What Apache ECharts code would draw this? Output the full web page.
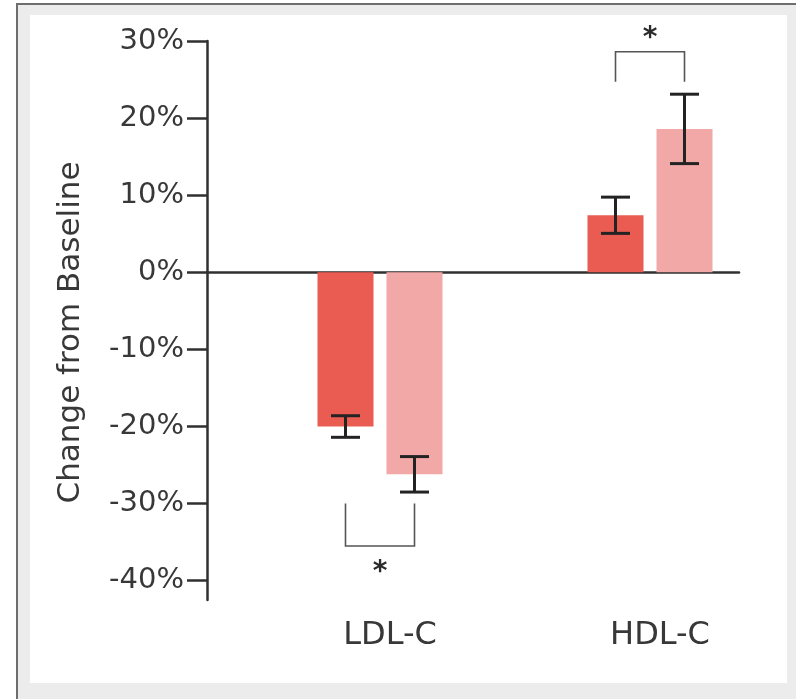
<!DOCTYPE html>
<html>
<head>
<meta charset="utf-8">
<title>Change from Baseline: LDL-C and HDL-C</title>
<script src="https://cdn.jsdelivr.net/npm/echarts@6/dist/echarts.min.js"></script>
<style>
  html, body { margin: 0; padding: 0; background: #ffffff; overflow: hidden; width: 796px; height: 699px; }
  .frame {
    position: absolute; left: 16px; top: 3px; width: 780px; height: 696px;
    box-sizing: border-box; background: #ececec;
    border-left: 2px solid #6e6e6e; border-top: 2px solid #6e6e6e;
  }
  .panel {
    position: absolute; left: 30px; top: 15px; width: 757px; height: 668px;
    background: #ffffff;
  }
  #chart { position: absolute; left: 0; top: 0; width: 796px; height: 699px; }
</style>
</head>
<body>
<div class="frame"></div>
<div class="panel"></div>
<div id="chart"></div>
<script>
// Lipid endpoints and mean percent change from baseline (two treatment arms)
const categories = ['LDL-C', 'HDL-C'];
const armA = [-20.0, 7.4];
const armB = [-26.2, 18.6];
// half-width of the error bars (same units as the values)
const armAErr = [1.4, 2.35];
const armBErr = [2.3, 4.5];
// significance brackets: where the legs start, where the bar runs, where the star sits
const bracketLegFrom = [-30.0, 24.7];
const bracketLevel = [-35.5, 28.6];
const starLevel = [-39.0, 30.3];
const starText = ['*', '*'];
// y axis
const yMin = -42.5;
const yMax = 30;
const yTicks = [-40, -30, -20, -10, 0, 10, 20, 30];

const BAR_WIDTH = 56;
const BAR_SPACING = 13;
const HALF_STEP = (BAR_WIDTH + BAR_SPACING) / 2;

const TEXT = '#383838';
const FONT = 'DejaVu Sans';

const errorData = [];
categories.forEach((c, i) => {
  errorData.push([i, armA[i], armAErr[i], 0]);
  errorData.push([i, armB[i], armBErr[i], 1]);
});
const bracketData = categories.map((c, i) => [i, bracketLegFrom[i], bracketLevel[i], starLevel[i], starText[i]]);

const chart = echarts.init(document.getElementById('chart'), null, { renderer: 'canvas' });

chart.setOption({
  animation: false,
  backgroundColor: 'transparent',
  grid: [
    // axes frame (y axis + zero line)
    { left: 207, right: 57, top: 41, bottom: 99 },
    // plotting area for the grouped bars
    { left: 245, right: 11, top: 41, bottom: 99 }
  ],
  xAxis: [
    {
      gridIndex: 0, type: 'category', data: categories,
      axisLine: { show: true, onZero: true, lineStyle: { color: '#303030', width: 2.5 } },
      axisTick: { show: false }, axisLabel: { show: false }, splitLine: { show: false }
    },
    {
      gridIndex: 1, type: 'category', data: categories,
      axisLine: { show: false, onZero: false }, axisTick: { show: false },
      axisLabel: {
        show: true, margin: 20, color: TEXT, fontFamily: FONT, fontSize: 32,
        padding: [0, 0, 0, 20]
      },
      splitLine: { show: false }
    }
  ],
  yAxis: [
    {
      gridIndex: 0, type: 'value', min: yMin, max: yMax,
      name: 'Change from Baseline', nameLocation: 'middle', nameGap: 121,
      nameTextStyle: { color: TEXT, fontFamily: FONT, fontSize: 31, padding: [0, 24, 0, 0] },
      axisLine: { show: true, lineStyle: { color: '#303030', width: 2.5 } },
      axisTick: { show: true, length: 20, customValues: yTicks, lineStyle: { color: '#303030', width: 2.5 } },
      axisLabel: {
        show: true, margin: 23, color: TEXT, fontFamily: FONT, fontSize: 29,
        customValues: yTicks, formatter: v => v + '%'
      },
      splitLine: { show: false }
    },
    {
      gridIndex: 1, type: 'value', min: yMin, max: yMax, show: false
    }
  ],
  series: [
    {
      name: 'Arm A', type: 'bar', xAxisIndex: 1, yAxisIndex: 1,
      data: armA, barWidth: BAR_WIDTH, barGap: (BAR_SPACING / BAR_WIDTH * 100) + '%',
      itemStyle: { color: '#ea5b52' }
    },
    {
      name: 'Arm B', type: 'bar', xAxisIndex: 1, yAxisIndex: 1,
      data: armB, barWidth: BAR_WIDTH, barGap: (BAR_SPACING / BAR_WIDTH * 100) + '%',
      itemStyle: { color: '#f2a8a7' }
    },
    {
      name: 'Error', type: 'custom', xAxisIndex: 1, yAxisIndex: 1, z: 5, clip: false,
      data: errorData,
      encode: { x: 0, y: 1 },
      renderItem: (params, api) => {
        const i = api.value(0), mean = api.value(1), err = api.value(2), s = api.value(3);
        const off = s === 0 ? -HALF_STEP : HALF_STEP;
        const hi = api.coord([i, mean + err]);
        const lo = api.coord([i, mean - err]);
        const x = hi[0] + off;
        const cap = 14.5;
        const style = { stroke: '#232323', lineWidth: 3 };
        return {
          type: 'group',
          children: [
            { type: 'line', shape: { x1: x, y1: hi[1], x2: x, y2: lo[1] }, style },
            { type: 'line', shape: { x1: x - cap, y1: hi[1], x2: x + cap, y2: hi[1] }, style },
            { type: 'line', shape: { x1: x - cap, y1: lo[1], x2: x + cap, y2: lo[1] }, style }
          ]
        };
      }
    },
    {
      name: 'Significance', type: 'custom', xAxisIndex: 1, yAxisIndex: 1, z: 5, clip: false,
      data: bracketData,
      encode: { x: 0, y: 1 },
      renderItem: (params, api) => {
        const i = api.value(0);
        const from = api.coord([i, api.value(1)]);
        const level = api.coord([i, api.value(2)]);
        const star = api.coord([i, api.value(3)]);
        const x0 = from[0] - HALF_STEP, x1 = from[0] + HALF_STEP;
        return {
          type: 'group',
          children: [
            {
              type: 'polyline',
              shape: { points: [[x0, from[1]], [x0, level[1]], [x1, level[1]], [x1, from[1]]] },
              style: { stroke: '#555555', lineWidth: 1.6, fill: null }
            },
            {
              type: 'text',
              style: {
                x: star[0], y: star[1], text: bracketData[params.dataIndex][4],
                fill: '#2a2a2a', font: 'bold 28px "DejaVu Sans"',
                align: 'center', verticalAlign: 'middle'
              }
            }
          ]
        };
      }
    }
  ]
});
</script>
</body>
</html>
